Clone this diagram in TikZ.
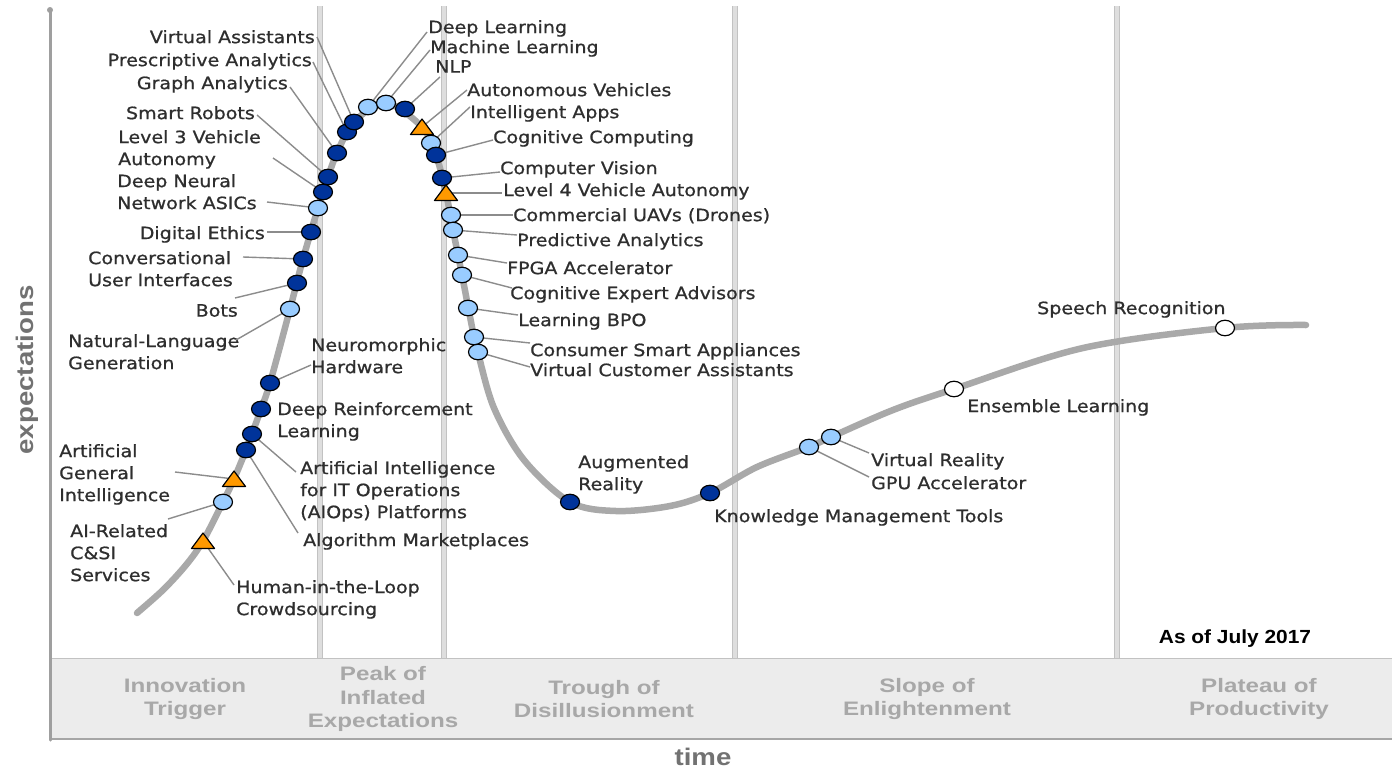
\documentclass[tikz,border=0pt]{standalone}
\usepackage{fontspec}
\usetikzlibrary{shapes.geometric}
\newfontfamily\lblfont{DejaVu Sans}[FakeStretch=1.12, FakeBold=0.8]
\newfontfamily\phfont{Liberation Sans}[FakeStretch=1.24]
\newfontfamily\asfont{Liberation Sans}[FakeStretch=1.1]
\newfontfamily\axfont{Liberation Sans}[FakeStretch=1.15]
\definecolor{txt}{HTML}{2E2E2E}
\definecolor{leadc}{HTML}{8C8C8C}
\definecolor{dkblue}{HTML}{00339A}
\definecolor{ltblue}{HTML}{99CCFF}
\definecolor{orng}{HTML}{FF9900}
\definecolor{curvec}{HTML}{A9A9A9}
\definecolor{sepc}{HTML}{C2C2C2}
\definecolor{sepin}{HTML}{DEDEDE}
\definecolor{bandc}{HTML}{ECECEC}
\definecolor{phasec}{HTML}{A8A8A8}
\definecolor{axc}{HTML}{727272}
\tikzset{
 lbl/.style={font=\lblfont\fontsize{17}{22}\selectfont, text=txt, inner sep=0pt, align=left},
 lblr/.style={lbl, align=right, anchor=north east},
 lbll/.style={lbl, anchor=north west},
 leader/.style={draw=leadc, line width=1.4pt},
 dk/.style={ellipse, draw=black, line width=1.2pt, fill=dkblue, minimum width=19pt, minimum height=15.5pt, inner sep=0pt},
 lt/.style={dk, fill=ltblue},
 wh/.style={dk, fill=white},
 trimark/.pic={\filldraw[fill=orng, draw=black, line width=1.2pt, line join=round] (-11.5,7.5) -- (11.5,7.5) -- (0,-8) -- cycle;},
 sepline/.style={draw=sepc, line width=1pt, double=sepin, double distance=4.5pt},
 phase/.style={font=\phfont\bfseries\fontsize{19.5}{23.5}\selectfont, text=phasec, align=center, inner sep=0pt},
}
\begin{document}
\begin{tikzpicture}[x=1pt,y=-1pt]
\useasboundingbox (0,0) rectangle (1392,774);
\fill[white] (0,0) rectangle (1392,774);
% band
\fill[bandc] (50,658) rectangle (1392,739);
\draw[draw=sepc, line width=1pt] (50,658) -- (1392,658);
\draw[draw=gray!70, line width=2pt] (50,739) -- (1392,739);
% separators
\coordinate (s1t) at (320,6); \coordinate (s1b) at (320,658);
\coordinate (s2t) at (444,6); \coordinate (s2b) at (444,658);
\coordinate (s3t) at (735,6); \coordinate (s3b) at (735,658);
\coordinate (s4t) at (1117,6); \coordinate (s4b) at (1117,658);
\draw[sepline] (s1t) -- (s1b);
\draw[sepline] (s2t) -- (s2b);
\draw[sepline] (s3t) -- (s3b);
\draw[sepline] (s4t) -- (s4b);
% axis
\coordinate (axt) at (50,10); \coordinate (axb) at (50,740);
\draw[draw=gray!75, line width=3pt, line cap=round] (axt) -- (axb);
\fill[gray!75] (50,10) circle (3pt);
% axis labels
\node[font=\axfont\bfseries\fontsize{24}{28}\selectfont, text=axc, rotate=90, inner sep=0pt] (ylab) at (27,370) {expectations};
\node[font=\axfont\bfseries\fontsize{24}{28}\selectfont, text=axc, inner sep=0pt] (xlab) at (703,757) {time};
% phases
\node[phase] (ph1) at (185,699) {Innovation\\Trigger};
\node[phase] (ph2) at (383,699) {Peak of\\Inflated\\Expectations};
\node[phase] (ph3) at (604,699) {Trough of\\Disillusionment};
\node[phase] (ph4) at (927,699) {Slope of\\Enlightenment};
\node[phase] (ph5) at (1259,699) {Plateau of\\Productivity};
\node[font=\asfont\bfseries\fontsize{19}{22}\selectfont, text=black, inner sep=0pt] (asof) at (1235,639) {As of July 2017};
% curve
\draw[draw=curvec, line width=6.5pt, line cap=round] plot[smooth, tension=0.55] coordinates {(137,613) (163,590) (186,565) (203,541) (223,502) (234,479) (246,450) (252,434) (261,409) (270,383) (290,309) (303,259) (318,208) (328,177) (337,153) (354,122) (386,103) (422,127) (436,155) (446,193) (453,230) (462,275) (474,337) (478,353) (494,408) (524,460) (570,502) (616,511) (670,506) (710,493) (757,467) (809,447) (831,437) (893,410) (954,389) (1083,348) (1225,328) (1306,325)};
% dot positions
\coordinate (p1) at (354,122);
\coordinate (p2) at (347,132);
\coordinate (p3) at (337,153);
\coordinate (p4) at (328,177);
\coordinate (p5) at (323,192);
\coordinate (p6) at (318,208);
\coordinate (p7) at (311,232);
\coordinate (p8) at (303,259);
\coordinate (p9) at (297,283);
\coordinate (p10) at (290,309);
\coordinate (p11) at (270,383);
\coordinate (p12) at (261,409);
\coordinate (p13) at (252,434);
\coordinate (p14) at (246,450);
\coordinate (p15) at (234,479);
\coordinate (p16) at (223,502);
\coordinate (p17) at (203,541);
\coordinate (p18) at (368,107);
\coordinate (p19) at (386,103);
\coordinate (p20) at (405,109);
\coordinate (p21) at (422,127);
\coordinate (p22) at (431,143);
\coordinate (p23) at (436,155);
\coordinate (p24) at (442,178);
\coordinate (p25) at (446,193);
\coordinate (p26) at (451,215);
\coordinate (p27) at (453,230);
\coordinate (p28) at (458,255);
\coordinate (p29) at (462,275);
\coordinate (p30) at (468,308);
\coordinate (p31) at (474,337);
\coordinate (p32) at (478,352);
\coordinate (p33) at (570,502);
\coordinate (p34) at (710,493);
\coordinate (p35) at (831,437);
\coordinate (p36) at (809,447);
\coordinate (p37) at (954,389);
\coordinate (p38) at (1225,328);
% labels (left)
\node[lblr] (l1) at (315,30) {Virtual Assistants};
\node[lblr] (l2) at (312,53) {Prescriptive Analytics};
\node[lblr] (l3) at (288,76) {Graph Analytics};
\node[lblr] (l4) at (255,106) {Smart Robots};
\node[lbll] (l5) at (118,130) {Level 3 Vehicle\\Autonomy};
\node[lbll] (l6) at (117,174) {Deep Neural\\Network ASICs};
\node[lblr] (l7) at (265,226) {Digital Ethics};
\node[lbll] (l8) at (88,251) {Conversational\\User Interfaces};
\node[lblr] (l9) at (238,304) {Bots};
\node[lbll] (l10) at (68,334) {Natural-Language\\Generation};
\node[lbll] (l11) at (311,338) {Neuromorphic\\Hardware};
\node[lbll] (l12) at (277,402) {Deep Reinforcement\\Learning};
\node[lbll] (l13) at (300,461) {Artificial Intelligence\\for IT Operations\\(AIOps) Platforms};
\node[lbll] (l14) at (303,533) {Algorithm Marketplaces};
\node[lbll] (l15) at (59,444) {Artificial\\General\\Intelligence};
\node[lbll] (l16) at (70,524) {AI-Related\\C\&SI\\Services};
\node[lbll] (l17) at (236,580) {Human-in-the-Loop\\Crowdsourcing};
% labels (right)
\node[lbll] (l18) at (428,20) {Deep Learning};
\node[lbll] (l19) at (430,40) {Machine Learning};
\node[lbll] (l20) at (435,60) {NLP};
\node[lbll] (l21) at (467,83) {Autonomous Vehicles};
\node[lbll] (l22) at (470,105) {Intelligent Apps};
\node[lbll] (l23) at (493,130) {Cognitive Computing};
\node[lbll] (l24) at (500,161) {Computer Vision};
\node[lbll] (l25) at (503,183) {Level 4 Vehicle Autonomy};
\node[lbll] (l26) at (513,208) {Commercial UAVs (Drones)};
\node[lbll] (l27) at (517,233) {Predictive Analytics};
\node[lbll] (l28) at (507,261) {FPGA Accelerator};
\node[lbll] (l29) at (510,286) {Cognitive Expert Advisors};
\node[lbll] (l30) at (518,313) {Learning BPO};
\node[lbll] (l31) at (530,343) {Consumer Smart Appliances};
\node[lbll] (l32) at (530,363) {Virtual Customer Assistants};
\node[lbll] (l33) at (578,455) {Augmented\\Reality};
\node[lbll] (l34) at (714,509) {Knowledge Management Tools};
\node[lbll] (l35) at (871,453) {Virtual Reality};
\node[lbll] (l36) at (871,476) {GPU Accelerator};
\node[lbll] (l37) at (967,399) {Ensemble Learning};
\node[lbll] (l38) at (1037,301) {Speech Recognition};
% leader ends
\coordinate (e1) at (317,37);
\coordinate (e2) at (313,62);
\coordinate (e3) at (290,87);
\coordinate (e4) at (257,115);
\coordinate (e5) at (273,158);
\coordinate (e6) at (267,202);
\coordinate (e7) at (267,232);
\coordinate (e8) at (243,257);
\coordinate (e9) at (235,298);
\coordinate (e10) at (236,340);
\coordinate (e11) at (311,365);
\coordinate (e13) at (296,472);
\coordinate (e14) at (298,533);
\coordinate (e15) at (175,472);
\coordinate (e16) at (168,519);
\coordinate (e17) at (234,585);
\coordinate (e18) at (427,32);
\coordinate (e19) at (430,50);
\coordinate (e20) at (440,77);
\coordinate (e21) at (467,90);
\coordinate (e22) at (470,107);
\coordinate (e23) at (493,140);
\coordinate (e24) at (500,172);
\coordinate (e25) at (502,193);
\coordinate (e26) at (513,215);
\coordinate (e27) at (517,235);
\coordinate (e28) at (507,263);
\coordinate (e29) at (512,288);
\coordinate (e30) at (518,315);
\coordinate (e31) at (530,343);
\coordinate (e32) at (530,367);
\coordinate (e35) at (869,453);
\coordinate (e36) at (869,477);
% leaders
\foreach \i in {1,...,11,13,14,15,16,17,18,19,20,21,22,23,24,25,26,27,28,29,30,31,32,35,36}
  \draw[leader] (p\i) -- (e\i);
% dots
\node[dk] (d14) at (p14) {};
\node[dk] (d13) at (p13) {};
\node[dk] (d12) at (p12) {};
\node[dk] (d11) at (p11) {};
\pic (d17) at (p17) {trimark};
\node[lt] (d16) at (p16) {};
\pic (d15) at (p15) {trimark};
\node[lt] (d10) at (p10) {};
\node[dk] (d9) at (p9) {};
\node[dk] (d8) at (p8) {};
\node[dk] (d7) at (p7) {};
\node[lt] (d6) at (p6) {};
\node[dk] (d5) at (p5) {};
\node[dk] (d4) at (p4) {};
\node[dk] (d3) at (p3) {};
\node[dk] (d2) at (p2) {};
\node[dk] (d1) at (p1) {};
\node[lt] (d18) at (p18) {};
\node[lt] (d19) at (p19) {};
\node[dk] (d20) at (p20) {};
\pic (d21) at (p21) {trimark};
\node[lt] (d22) at (p22) {};
\node[dk] (d23) at (p23) {};
\node[dk] (d24) at (p24) {};
\pic (d25) at (p25) {trimark};
\node[lt] (d26) at (p26) {};
\node[lt] (d27) at (p27) {};
\node[lt] (d28) at (p28) {};
\node[lt] (d29) at (p29) {};
\node[lt] (d30) at (p30) {};
\node[lt] (d31) at (p31) {};
\node[lt] (d32) at (p32) {};
\node[dk] (d33) at (p33) {};
\node[dk] (d34) at (p34) {};
\node[lt] (d36) at (p36) {};
\node[lt] (d35) at (p35) {};
\node[wh] (d37) at (p37) {};
\node[wh] (d38) at (p38) {};
\end{tikzpicture}
\end{document}
